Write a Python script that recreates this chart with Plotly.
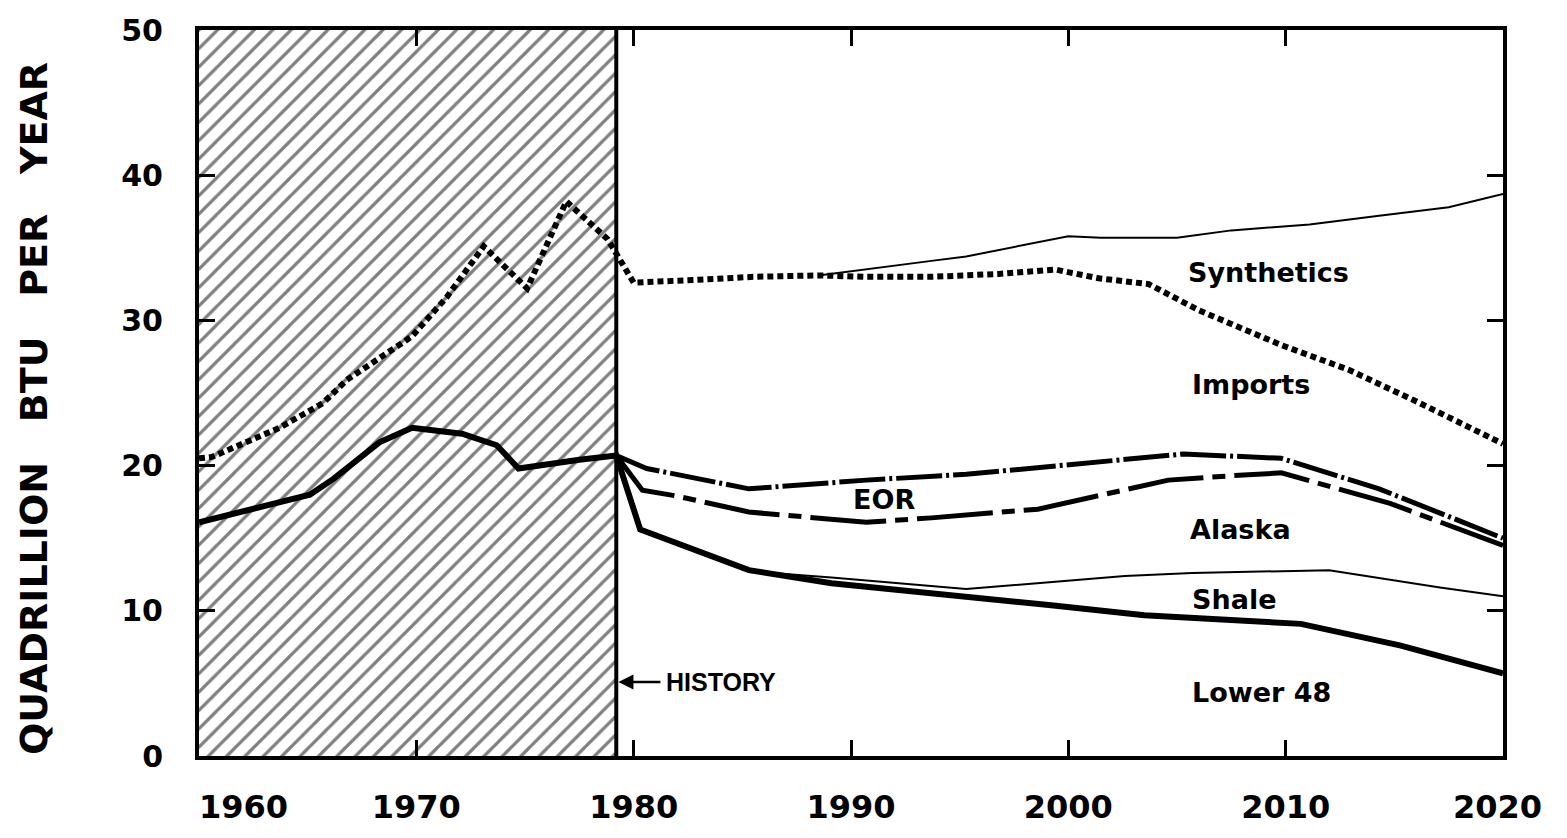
import plotly.graph_objects as go

# ---------------- data (quadrillion BTU per year, cumulative levels) ----------------
HISTORY_END = 1979.2

imports_years = [1960, 1960.6, 1963.7, 1965.7, 1966.8, 1969.8, 1971.4, 1973.1, 1975.1,
                 1976.9, 1978.8, 1980.0, 1983.0, 1985.5, 1988.5, 1990.7, 1993.7, 1996.8,
                 1999.4, 2001.4, 2003.7, 2006.0, 2009.8, 2012.9, 2015.9, 2020]
imports_vals = [20.5, 20.6, 22.6, 24.3, 25.9, 28.9, 31.6, 35.1, 32.2,
                38.2, 35.6, 32.6, 32.8, 33.0, 33.1, 33.0, 33.0, 33.2,
                33.5, 32.9, 32.5, 30.7, 28.3, 26.6, 24.5, 21.5]

synth_years = [1988.5, 1990.0, 1993.7, 1995.3, 1997.6, 2000.0, 2001.5, 2005.0, 2007.5,
               2011.1, 2014.3, 2017.5, 2020]
synth_vals = [33.1, 33.4, 34.1, 34.4, 35.1, 35.8, 35.7, 35.7, 36.2,
              36.6, 37.2, 37.8, 38.7]

eor_years = [1979.2, 1980.6, 1985.3, 1990.7, 1995.3, 1999.0, 2002.2, 2005.3, 2009.8, 2014.3, 2020]
eor_vals = [20.7, 19.8, 18.4, 19.0, 19.4, 19.9, 20.3, 20.8, 20.5, 18.4, 15.0]

alaska_years = [1979.2, 1980.4, 1982.0, 1985.3, 1990.7, 1993.7, 1998.6, 2004.6, 2007.5,
                2009.8, 2014.8, 2020]
alaska_vals = [20.7, 18.3, 17.9, 16.8, 16.1, 16.4, 17.0, 19.0, 19.3, 19.5, 17.4, 14.5]

shale_years = [1985.5, 1989.1, 1995.3, 2002.6, 2005.7, 2012.0, 2017.1, 2020]
shale_vals = [12.7, 12.3, 11.5, 12.4, 12.6, 12.8, 11.6, 11.0]

lower48_years = [1960, 1965.1, 1966.2, 1968.3, 1969.8, 1972.1, 1973.7, 1974.7, 1977.5,
                 1979.2, 1980.3, 1985.3, 1989.1, 1995.3, 1999.1, 2003.5, 2010.7, 2015.3, 2020]
lower48_vals = [16.1, 18.0, 19.1, 21.6, 22.6, 22.2, 21.4, 19.8, 20.4,
                20.7, 15.6, 12.8, 11.9, 11.0, 10.4, 9.7, 9.1, 7.6, 5.7]

x_ticks = [1960, 1970, 1980, 1990, 2000, 2010, 2020]
x_tick_text = ["\u00a0" * 8 + "1960", "1970", "1980", "1990", "2000", "2010",
               "2020\u00a0"]
y_ticks = [0, 10, 20, 30, 40, 50]
Y_MIN, Y_MAX = 0, 50

labels = ["Synthetics", "Imports", "EOR", "Alaska", "Shale", "Lower 48"]
label_x = [2009.2, 2008.4, 1991.5, 2007.9, 2007.6, 2008.9]
label_y = [33.3, 25.6, 17.7, 15.6, 10.8, 4.4]

# ---------------- figure ----------------
fig = go.Figure()

# hatched history region
fig.add_trace(go.Scatter(
    x=[x_ticks[0], HISTORY_END, HISTORY_END, x_ticks[0], x_ticks[0]],
    y=[Y_MIN, Y_MIN, Y_MAX, Y_MAX, Y_MIN],
    mode="lines", fill="toself", fillcolor="white",
    fillpattern=dict(shape="/", size=13, solidity=0.25, fgcolor="black", bgcolor="white"),
    line=dict(color="rgba(0,0,0,0)", width=0), hoverinfo="skip"))
fig.add_trace(go.Scatter(x=[HISTORY_END, HISTORY_END], y=[Y_MIN, Y_MAX], mode="lines",
                         line=dict(color="black", width=4), hoverinfo="skip"))

fig.add_trace(go.Scatter(x=imports_years, y=imports_vals, mode="lines", name="Imports",
                         line=dict(color="black", width=6, dash="6px,4px")))
fig.add_trace(go.Scatter(x=synth_years, y=synth_vals, mode="lines", name="Synthetics",
                         line=dict(color="black", width=2)))
fig.add_trace(go.Scatter(x=eor_years, y=eor_vals, mode="lines", name="EOR",
                         line=dict(color="black", width=5, dash="46px,4px,3px,4px")))
fig.add_trace(go.Scatter(x=alaska_years, y=alaska_vals, mode="lines", name="Alaska",
                         line=dict(color="black", width=5, dash="76px,9px,13px,9px")))
fig.add_trace(go.Scatter(x=shale_years, y=shale_vals, mode="lines", name="Shale",
                         line=dict(color="black", width=2)))
fig.add_trace(go.Scatter(x=lower48_years, y=lower48_vals, mode="lines", name="Lower 48",
                         line=dict(color="black", width=6)))

lab_font = dict(family="DejaVu Sans", size=27, color="black", weight="bold")
for t, lx, ly in zip(labels, label_x, label_y):
    fig.add_annotation(x=lx, y=ly, text=t, showarrow=False, font=lab_font,
                       xanchor="center", yanchor="middle")

# HISTORY marker
fig.add_annotation(x=1981.4, y=5.1, text="HISTORY", showarrow=False, xanchor="left",
                   yanchor="middle",
                   font=dict(family="Liberation Sans", size=25, color="black", weight="bold"))
fig.add_annotation(x=HISTORY_END + 0.1, y=5.1, ax=1981.3, ay=5.1, axref="x", ayref="y",
                   text="", showarrow=True, arrowhead=2, arrowsize=1.2, arrowwidth=2.5,
                   arrowcolor="black")

# y-axis title
fig.add_annotation(xref="paper", yref="paper", x=-0.126, y=0.479, textangle=-90,
                   text="QUADRILLION\u00a0\u00a0\u00a0BTU\u00a0\u00a0\u00a0PER\u00a0\u00a0\u00a0YEAR",
                   showarrow=False, xanchor="center", yanchor="middle",
                   font=dict(family="DejaVu Sans", size=38, color="black", weight="bold"))

axis_common = dict(showline=True, linewidth=4, linecolor="black", mirror="ticks",
                   ticks="inside", ticklen=16, tickwidth=3, tickcolor="black",
                   showgrid=False, zeroline=False)
fig.update_xaxes(range=[x_ticks[0], x_ticks[-1]], tickvals=x_ticks, ticktext=x_tick_text,
                 tickfont=dict(family="DejaVu Sans", size=32, color="black", weight="bold"),
                 ticklabelstandoff=20, **axis_common)
fig.update_yaxes(range=[Y_MIN, Y_MAX], tickvals=y_ticks,
                 tickfont=dict(family="DejaVu Sans", size=30, color="black", weight="bold"),
                 ticklabelstandoff=26, **axis_common)

fig.update_layout(width=1567, height=838, margin=dict(l=199, r=64, t=20, b=73),
                  plot_bgcolor="white", paper_bgcolor="white", showlegend=False)

fig.write_html("out.html", config={"displayModeBar": False},
               post_script="document.body.style.margin='0';document.body.style.overflow='hidden';")
